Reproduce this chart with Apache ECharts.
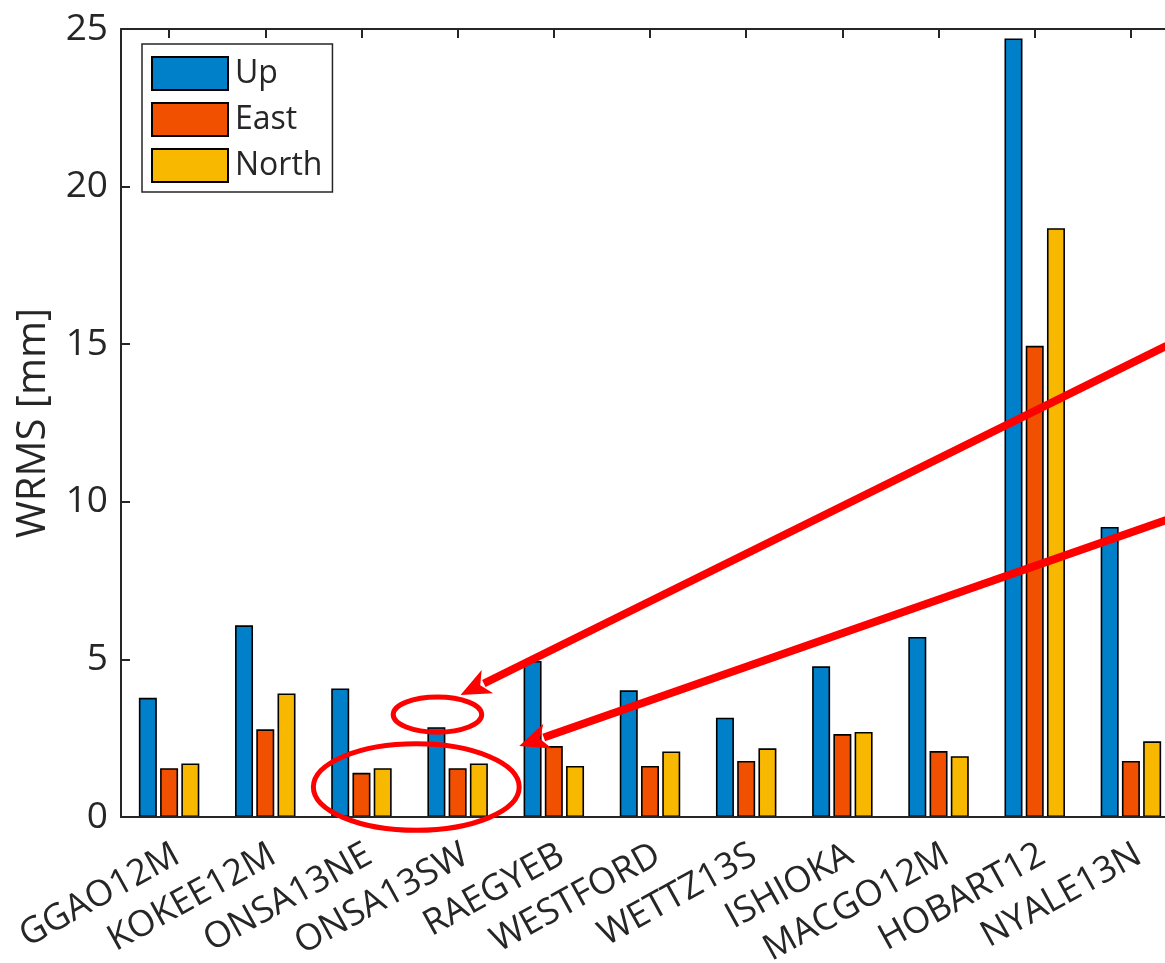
<!DOCTYPE html>
<html>
<head>
<meta charset="utf-8">
<script src="https://cdn.jsdelivr.net/npm/echarts@6/dist/echarts.min.js"></script>
<style>
  html, body { margin: 0; padding: 0; background: #fff; }
  #grafico { width: 1165px; height: 963px; }
</style>
</head>
<body>
<div id="grafico"></div>
<script>
// Dados
const estacoes = ['GGAO12M', 'KOKEE12M', 'ONSA13NE', 'ONSA13SW', 'RAEGYEB', 'WESTFORD',
    'WETTZ13S', 'ISHIOKA', 'MACGO12M', 'HOBART12', 'NYALE13N'];
const up = [3.78, 6.08, 4.08, 2.85, 4.95, 4.02, 3.15, 4.78, 5.71, 24.7, 9.2];
const east = [1.55, 2.78, 1.40, 1.55, 2.25, 1.62, 1.78, 2.63, 2.09, 14.95, 1.78];
const north = [1.70, 3.92, 1.55, 1.70, 1.62, 2.08, 2.18, 2.70, 1.93, 18.68, 2.40];
const yTicks = [0, 5, 10, 15, 20, 25];

// Anotações vermelhas (em coordenadas de dados: índice da categoria, valor)
const elipses = [
    { cx: 2.79, cy: 3.25, rx: 0.46, ry: 0.56 },
    { cx: 2.57, cy: 0.95, rx: 1.07, ry: 1.37 }
];
const setas = [
    { de: [10.37, 14.95], para: [3.03, 3.87] },
    { de: [10.37, 9.42], para: [3.64, 2.25] }
];

const eixoCor = '#262626';
const fonte = 'Open Sans';

var chartDom = document.getElementById('grafico');
var myChart = echarts.init(chartDom);

function serie(nome, dados, cor) {
    return {
        name: nome,
        type: 'bar',
        data: dados,
        barWidth: 18,
        barGap: '18%',
        animation: false,
        itemStyle: { color: cor, borderColor: '#000', borderWidth: 1.6 }
    };
}

var option = {
    animation: false,
    textStyle: { fontFamily: fonte },
    legend: {
        orient: 'vertical',
        left: 142,
        top: 44,
        padding: [12, 10, 9, 9],
        itemWidth: 76,
        itemHeight: 33,
        itemGap: 11,
        borderColor: eixoCor,
        borderWidth: 1.5,
        backgroundColor: '#fff',
        icon: 'rect',
        textStyle: { fontSize: 32, color: eixoCor, fontFamily: fonte, padding: [0, 0, 0, 2] },
        data: ['Up', 'East', 'North']
    },
    grid: { left: 121, top: 29, bottom: 146, width: 1058, outerBoundsMode: 'none' },
    xAxis: [
        {
            type: 'category',
            data: estacoes,
            z: 5,
            axisLine: { lineStyle: { color: eixoCor, width: 2 } },
            axisTick: { alignWithLabel: true, inside: true, length: 9, lineStyle: { color: eixoCor, width: 2 } },
            axisLabel: { rotate: 29, fontSize: 36, color: eixoCor, margin: 40, padding: [0, -9, 0, 0], interval: 0 }
        },
        {
            type: 'category',
            data: estacoes,
            position: 'top',
            z: 5,
            axisLine: { show: true, lineStyle: { color: eixoCor, width: 2 } },
            axisTick: { show: true, alignWithLabel: true, inside: true, length: 9, lineStyle: { color: eixoCor, width: 2 } },
            axisLabel: { show: false }
        }
    ],
    yAxis: {
        type: 'value',
        min: 0,
        max: 25,
        interval: 5,
        name: 'WRMS [mm]',
        nameLocation: 'middle',
        nameGap: 67,
        nameTextStyle: { fontSize: 40, color: eixoCor, fontFamily: fonte },
        axisLine: { show: true, lineStyle: { color: eixoCor, width: 2 } },
        axisTick: { show: true, inside: true, length: 9, lineStyle: { color: eixoCor, width: 2 } },
        axisLabel: {
            fontSize: 37, color: eixoCor, margin: 13,
            formatter: function (v) { return yTicks.indexOf(v) >= 0 ? String(v) : ''; }
        },
        splitLine: { show: false }
    },
    series: [
        serie('Up', up, '#0080C9'),
        serie('East', east, '#F05000'),
        serie('North', north, '#F8B800')
    ]
};

option && myChart.setOption(option);

// Converte (índice, valor) em pixels pelo próprio eixo
function px(i, v) {
    var a = myChart.convertToPixel({ xAxisIndex: 0, yAxisIndex: 0 }, [0, v]);
    var b = myChart.convertToPixel({ xAxisIndex: 0, yAxisIndex: 0 }, [1, v]);
    return [a[0] + i * (b[0] - a[0]), a[1]];
}
var passo = px(1, 0)[0] - px(0, 0)[0];
var escalaY = px(0, 0)[1] - px(0, 1)[1];

var elementos = [];
elipses.forEach(function (e) {
    var c = px(e.cx, e.cy);
    elementos.push({
        type: 'ellipse',
        z: 100,
        shape: { cx: c[0], cy: c[1], rx: e.rx * passo, ry: e.ry * escalaY },
        style: { fill: 'none', stroke: '#FF0000', lineWidth: 5 }
    });
});
setas.forEach(function (s) {
    var p0 = px(s.de[0], s.de[1]);
    var p1 = px(s.para[0], s.para[1]);
    var dx = p1[0] - p0[0], dy = p1[1] - p0[1];
    var len = Math.sqrt(dx * dx + dy * dy);
    var ux = dx / len, uy = dy / len;
    var cabeca = 30, larg = 13;
    var base = [p1[0] - ux * cabeca, p1[1] - uy * cabeca];
    elementos.push({
        type: 'line',
        z: 100,
        shape: { x1: p0[0], y1: p0[1], x2: base[0] + ux * 4, y2: base[1] + uy * 4 },
        style: { stroke: '#FF0000', lineWidth: 8 }
    });
    elementos.push({
        type: 'polygon',
        z: 100,
        shape: {
            points: [
                p1,
                [base[0] - uy * larg, base[1] + ux * larg],
                [base[0] + ux * 8, base[1] + uy * 8],
                [base[0] + uy * larg, base[1] - ux * larg]
            ]
        },
        style: { fill: '#FF0000' }
    });
});
myChart.setOption({ graphic: elementos });
</script>
</body>
</html>
